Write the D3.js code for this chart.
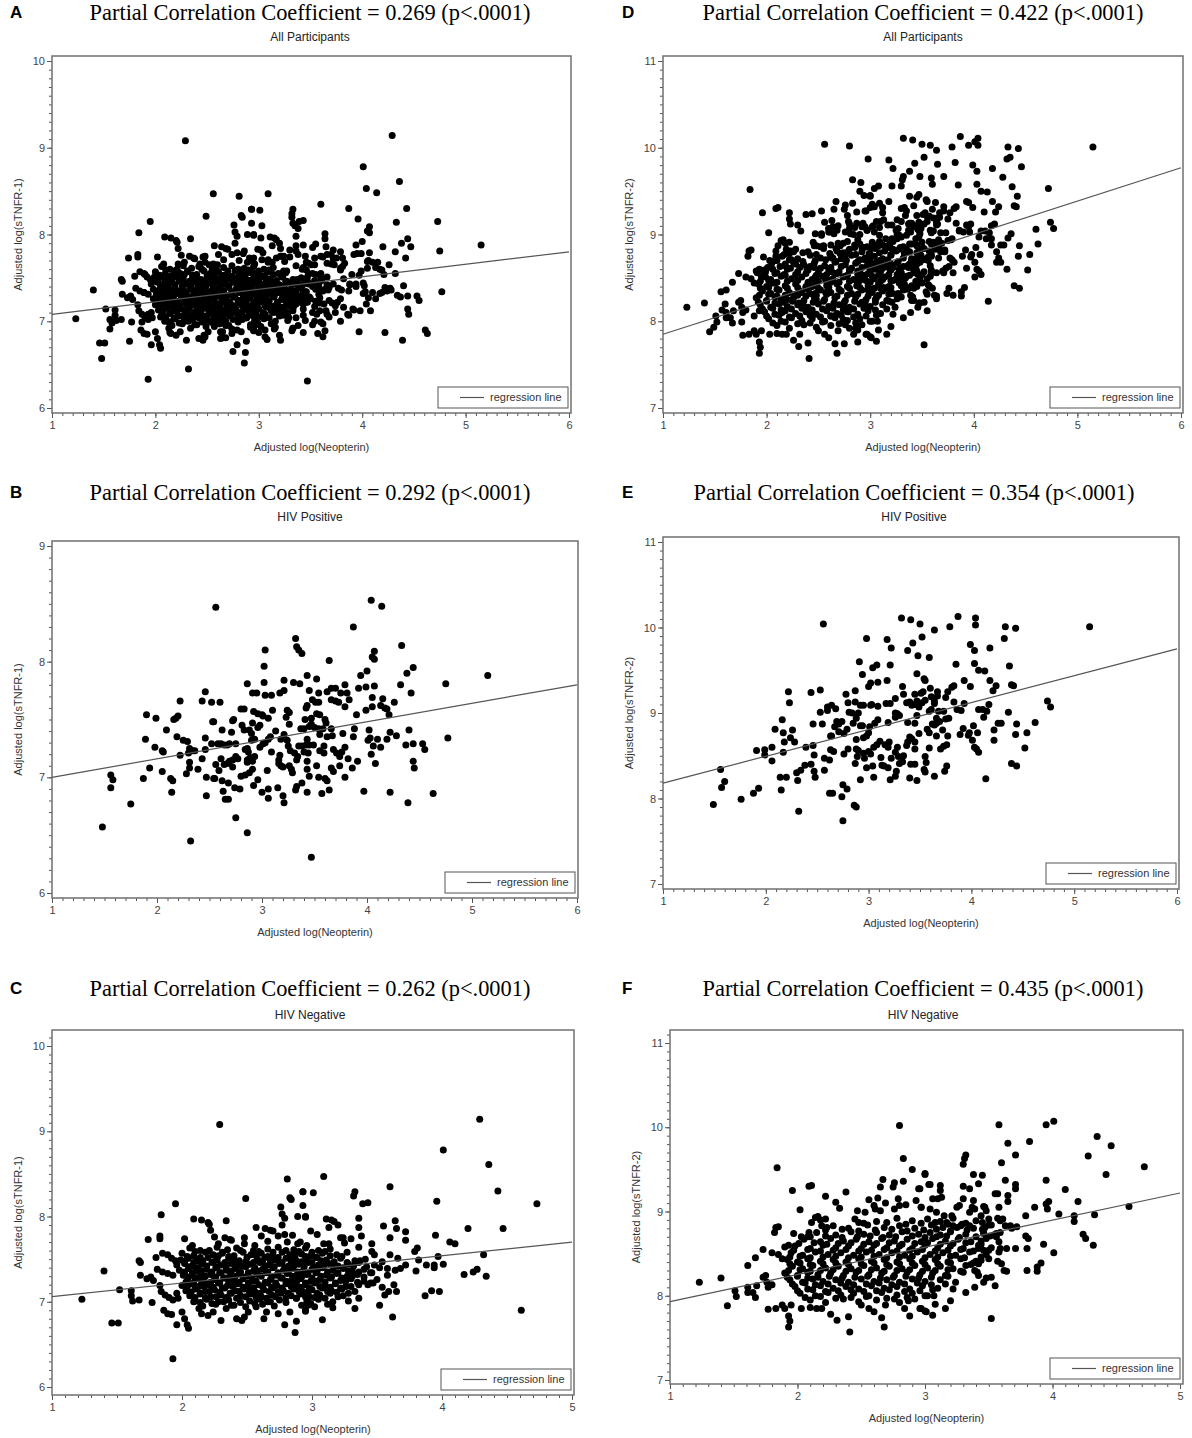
<!DOCTYPE html>
<meta charset="utf-8">
<style>
body{margin:0;background:#fff;}
text{font-family:Arial,"Liberation Sans",sans-serif;fill:#222;}
.title{font-family:"Times New Roman","Liberation Serif",serif;font-size:22.4px;text-anchor:middle;fill:#000;}
.sub{font-size:12px;text-anchor:middle;}
.letter{font-size:17px;font-weight:bold;fill:#000;}
.axlab{font-size:11px;text-anchor:middle;fill:#333;}
.tick text{font-size:11px;fill:#444;font-family:Arial,"Liberation Sans",sans-serif;}
.tick line{stroke:#555;}
.domain{display:none;}
.frame{fill:none;stroke:#707070;stroke-width:1.5px;}
.reg{stroke:#555;stroke-width:1.2px;}
.legbox{fill:#fff;stroke:#555;stroke-width:1px;}
.legtext{font-size:11px;fill:#333;}
</style>
<body>
<script src="https://d3js.org/d3.v7.min.js"></script>
<script>

// HIV positive participants: adjusted log(neopterin), adjusted log(sTNFR-1)
var hivPosR1=[[2.56,8.47],[4.04,8.53],[4.14,8.48],[3.87,8.30],[3.32,8.20],[3.33,8.13],[3.35,8.10],[3.38,8.07],[3.03,8.10],[4.07,8.09],[4.33,8.14],[4.05,8.04],[4.07,8.02],[3.64,8.01],[3.02,7.96],[4.44,7.95],[4.00,7.92],[4.38,7.90],[3.94,7.88],[3.43,7.88],[5.15,7.88],[3.52,7.85],[3.21,7.84],[3.30,7.82],[3.36,7.81],[3.02,7.82],[2.86,7.81],[4.75,7.81],[4.32,7.80],[3.99,7.78],[4.07,7.79],[3.92,7.77],[3.79,7.80],[2.46,7.74],[2.91,7.73],[2.95,7.73],[3.03,7.71],[3.09,7.71],[3.17,7.73],[3.21,7.75],[3.45,7.75],[3.54,7.73],[3.62,7.74],[3.66,7.77],[3.70,7.77],[3.75,7.73],[3.81,7.73],[3.83,7.67],[4.42,7.73],[2.43,7.66],[2.52,7.65],[2.60,7.65],[2.22,7.66],[1.90,7.54],[1.99,7.51],[2.16,7.50],[2.18,7.51],[2.20,7.53],[2.80,7.59],[2.83,7.59],[2.92,7.57],[2.96,7.55],[3.01,7.53],[3.24,7.58],[3.26,7.56],[3.10,7.58],[3.42,7.60],[3.43,7.62],[3.48,7.67],[3.51,7.65],[3.54,7.65],[3.55,7.54],[3.52,7.55],[3.47,7.51],[3.41,7.50],[3.66,7.67],[3.70,7.66],[3.73,7.65],[3.79,7.61],[4.05,7.69],[4.05,7.61],[4.15,7.68],[4.26,7.65],[4.13,7.62],[4.17,7.60],[4.19,7.59],[4.21,7.54],[3.99,7.58],[3.90,7.54],[2.72,7.49],[2.73,7.50],[2.54,7.48],[2.09,7.41],[2.19,7.35],[1.89,7.33],[2.25,7.32],[2.29,7.31],[2.31,7.25],[2.34,7.23],[1.98,7.26],[2.05,7.23],[2.06,7.22],[2.22,7.19],[2.30,7.21],[1.93,7.08],[2.05,7.05],[1.87,6.99],[2.13,6.99],[2.15,6.97],[2.14,6.87],[1.56,7.02],[1.58,6.98],[1.56,6.91],[1.48,6.57],[1.75,6.77],[2.32,6.45],[2.28,7.03],[2.31,7.08],[2.39,7.07],[2.43,7.16],[2.46,7.24],[2.47,7.00],[2.47,6.84],[2.46,7.34],[2.52,7.29],[2.58,7.29],[2.61,7.29],[2.64,7.28],[2.67,7.28],[2.69,7.29],[2.75,7.29],[2.53,7.48],[2.62,7.41],[2.71,7.39],[2.81,7.45],[2.83,7.41],[2.88,7.41],[2.91,7.47],[2.96,7.43],[2.98,7.45],[2.90,7.38],[2.90,7.32],[2.93,7.33],[2.86,7.25],[2.84,7.24],[2.87,7.22],[2.89,7.17],[2.86,7.15],[2.93,7.18],[2.98,7.26],[3.01,7.29],[3.03,7.30],[3.06,7.33],[3.08,7.35],[3.13,7.40],[3.18,7.33],[3.21,7.37],[3.24,7.32],[3.06,7.51],[3.00,7.54],[3.26,7.46],[3.23,7.52],[3.37,7.42],[3.40,7.42],[3.45,7.44],[3.47,7.46],[3.50,7.43],[3.54,7.42],[3.58,7.42],[3.61,7.47],[3.60,7.50],[3.66,7.42],[3.62,7.35],[3.67,7.36],[3.55,7.37],[3.43,7.33],[3.42,7.28],[3.38,7.27],[3.35,7.27],[3.45,7.28],[3.49,7.28],[3.59,7.27],[3.55,7.23],[3.59,7.21],[3.68,7.24],[3.71,7.21],[3.76,7.22],[3.74,7.18],[3.77,7.38],[3.79,7.26],[3.82,7.16],[3.87,7.35],[3.88,7.42],[3.91,7.14],[3.86,7.08],[3.74,7.10],[3.68,7.05],[3.66,7.08],[3.79,7.00],[3.64,6.89],[3.62,6.97],[3.60,6.99],[3.54,7.00],[3.45,7.01],[3.43,7.07],[3.43,7.14],[3.44,7.21],[3.40,7.22],[3.34,7.18],[3.33,7.15],[3.29,7.04],[3.28,7.07],[3.31,7.21],[3.27,7.23],[3.25,7.27],[3.17,7.19],[3.16,7.12],[3.18,7.10],[3.20,7.09],[3.26,7.10],[3.16,7.15],[3.09,7.22],[3.05,7.06],[3.06,6.90],[3.06,6.82],[3.00,6.87],[3.15,6.91],[3.20,6.84],[3.21,6.78],[3.32,6.89],[3.33,6.92],[3.43,6.87],[3.38,6.95],[3.57,6.86],[3.52,7.10],[3.97,6.88],[4.01,7.32],[4.03,7.34],[4.04,7.20],[4.08,7.12],[4.10,7.33],[4.13,7.26],[4.06,7.27],[4.02,7.41],[4.19,7.33],[4.22,7.39],[4.28,7.36],[4.37,7.28],[4.40,7.41],[4.44,7.29],[4.53,7.29],[4.55,7.24],[4.44,7.14],[4.45,7.08],[4.77,7.34],[4.22,6.87],[4.39,6.78],[4.63,6.86],[2.75,7.18],[2.77,7.16],[2.72,7.15],[2.69,7.14],[2.64,7.11],[2.61,7.16],[2.59,7.06],[2.56,7.11],[2.55,6.99],[2.62,6.97],[2.68,6.95],[2.63,6.88],[2.65,6.81],[2.68,6.81],[2.74,6.91],[2.79,6.90],[2.75,6.65],[2.86,6.52],[3.47,6.31],[2.80,7.01],[2.84,7.02],[2.88,7.04],[2.91,7.07],[2.96,6.98],[2.92,6.93],[2.86,7.13],[2.88,7.16],[2.91,7.14],[2.72,7.09],[2.67,7.12],[2.54,6.99],[2.36,7.23],[2.31,7.13]];

// HIV negative participants: adjusted log(neopterin), adjusted log(sTNFR-1)
var hivNegR1=[[2.29,9.08],[2.81,8.44],[2.49,8.21],[1.95,8.15],[1.84,8.02],[2.83,8.22],[2.84,8.20],[2.93,8.29],[2.93,8.13],[2.76,8.11],[2.77,8.03],[2.79,7.98],[2.89,8.00],[2.95,8.00],[2.09,7.97],[2.15,7.96],[2.20,7.93],[2.21,7.91],[2.34,7.95],[2.77,7.90],[2.57,7.87],[2.22,7.84],[1.74,7.73],[1.83,7.74],[1.83,7.77],[2.02,7.74],[2.25,7.76],[2.33,7.75],[2.37,7.73],[2.48,7.75],[2.64,7.86],[2.68,7.84],[2.70,7.83],[2.08,7.66],[1.40,7.36],[1.23,7.03],[1.52,7.14],[1.61,7.13],[1.61,7.07],[1.62,7.01],[1.67,7.48],[1.68,7.46],[1.68,7.31],[1.73,7.27],[1.76,7.29],[1.78,7.25],[1.67,7.02],[1.77,6.99],[1.46,6.75],[1.51,6.75],[1.93,6.33],
[1.80,7.52],[1.85,7.57],[1.89,7.55],[1.92,7.51],[1.95,7.48],[1.96,7.43],[1.81,7.38],[1.85,7.35],[1.89,7.33],[1.93,7.31],[1.83,7.19],[1.84,7.12],[1.87,7.08],[1.90,7.05],[1.93,7.02],[1.97,7.04],[1.96,7.10],[1.86,6.90],[1.89,6.86],[1.92,6.85],[1.96,6.73],[2.00,6.88],[2.02,6.80],[2.04,6.73],[2.05,6.69],
[2.09,7.00],[2.13,6.92],[2.15,6.86],[2.20,6.84],[2.24,6.88],[2.30,6.78],[2.34,6.92],[2.38,6.96],[2.42,6.80],[2.46,6.78],[2.48,6.82],[2.51,6.88],[2.57,6.94],[2.63,6.80],[2.65,6.88],[2.74,6.86],[2.79,6.73],[2.87,6.64],[2.88,6.77],[2.83,6.88],[2.95,6.90],[2.97,6.96],
[2.61,7.77],[2.66,7.71],[2.74,7.77],[2.79,7.79],[2.85,7.78],[2.81,7.70],[2.89,7.68],[2.28,7.68],[2.38,7.72],[2.48,7.68],[2.56,7.66],
[4.29,9.14],[4.01,8.78],[4.36,8.61],[4.43,8.30],[4.73,8.15],[3.96,8.18],[4.20,7.86],[4.47,7.86],[3.95,7.78],[4.06,7.70],[4.10,7.68],[4.32,7.55],[3.97,7.53],[4.01,7.44],[4.17,7.32],[4.24,7.35],[4.27,7.38],[4.34,7.30],[3.87,7.07],[3.92,7.13],[3.98,7.12],[4.61,6.90],[3.88,7.43],[3.94,7.43],[3.94,7.40],[3.79,7.59],[3.81,7.63],[3.82,7.49],[3.80,7.36],[3.60,8.35],[3.09,8.47],[2.93,8.29],[3.01,8.28],[2.95,7.99],[3.33,8.29],[3.32,8.24],[3.39,8.15],[3.43,8.16],[3.36,7.98],[3.36,7.87],[3.55,7.89],[3.65,7.86],[3.64,7.95],[3.60,7.75],[3.72,7.82],[3.72,7.72],[3.11,7.97],[3.15,7.96],[3.17,7.94],[3.20,7.90],[3.13,7.87],[2.99,7.83],[3.04,7.79],[3.22,7.75],[3.24,7.75],[3.30,7.74],[3.25,7.69],[3.38,7.77],[3.46,7.68],[3.36,7.64],[3.46,7.59],[3.09,7.68],[3.13,7.68],[2.96,7.66],[2.91,7.70],
[3.60,7.55],[3.66,7.51],[3.72,7.43],[3.58,7.39],[3.64,7.37],[3.68,7.39],[3.54,7.47],[3.48,7.55],[3.52,6.96],[3.62,6.82],[3.54,7.17],[3.59,7.12],[3.63,7.20],[3.65,7.12],[3.56,7.08],[3.08,6.79],[2.95,6.89],[3.16,6.93],[3.33,6.92],[3.28,7.01],[3.36,7.04],[3.43,7.20],
[2.06,7.63],[2.14,7.60],[2.27,7.64],[2.35,7.61],[2.42,7.63],[2.55,7.60],[2.66,7.62],[2.74,7.64],[2.86,7.61],[2.95,7.63],[3.05,7.60],[3.14,7.62],
[2.00,7.57],[2.09,7.54],[2.18,7.58],[2.24,7.55],[2.31,7.57],[2.40,7.54],[2.47,7.58],[2.53,7.55],[2.61,7.57],[2.70,7.54],[2.77,7.58],[2.83,7.55],[2.92,7.56],[2.99,7.54],[3.08,7.57],[3.19,7.55],[3.27,7.58],
[1.99,7.49],[2.05,7.51],[2.12,7.48],[2.20,7.52],[2.27,7.49],[2.36,7.51],[2.44,7.48],[2.58,7.50],[2.64,7.52],[2.72,7.49],[2.80,7.51],[2.88,7.48],[2.96,7.50],[3.03,7.52],[3.11,7.49],[3.22,7.51],[3.33,7.48],[3.41,7.50],
[2.02,7.45],[2.08,7.42],[2.15,7.44],[2.23,7.46],[2.30,7.43],[2.38,7.45],[2.46,7.42],[2.52,7.44],[2.60,7.46],[2.67,7.43],[2.75,7.45],[2.82,7.42],[2.90,7.44],[2.97,7.46],[3.05,7.43],[3.13,7.45],[3.20,7.42],[3.28,7.44],[3.36,7.46],[3.48,7.43],
[1.98,7.37],[2.05,7.39],[2.11,7.36],[2.19,7.38],[2.26,7.40],[2.34,7.37],[2.41,7.39],[2.55,7.36],[2.62,7.38],[2.70,7.40],[2.78,7.37],[2.85,7.39],[2.93,7.36],[3.00,7.38],[3.08,7.40],[3.16,7.37],[3.24,7.39],[3.31,7.36],[3.40,7.38],[3.52,7.40],
[2.01,7.31],[2.08,7.33],[2.14,7.30],[2.22,7.32],[2.29,7.34],[2.37,7.31],[2.44,7.33],[2.50,7.30],[2.58,7.32],[2.65,7.34],[2.73,7.31],[2.81,7.33],[2.88,7.30],[2.96,7.32],[3.03,7.34],[3.11,7.31],[3.19,7.33],[3.27,7.30],[3.35,7.32],[3.45,7.34],[3.58,7.31],
[2.04,7.25],[2.10,7.27],[2.17,7.24],[2.25,7.26],[2.32,7.28],[2.40,7.25],[2.47,7.27],[2.54,7.24],[2.68,7.26],[2.76,7.28],[2.84,7.25],[2.91,7.27],[2.99,7.24],[3.06,7.26],[3.14,7.28],[3.22,7.25],[3.30,7.27],[3.40,7.24],[3.50,7.26],
[2.00,7.19],[2.07,7.21],[2.13,7.18],[2.21,7.20],[2.28,7.22],[2.35,7.19],[2.43,7.21],[2.51,7.18],[2.59,7.20],[2.66,7.22],[2.73,7.19],[2.80,7.21],[2.87,7.18],[2.95,7.20],[3.02,7.22],[3.10,7.19],[3.18,7.21],[3.26,7.18],[3.36,7.20],[3.47,7.22],
[2.03,7.13],[2.10,7.15],[2.18,7.12],[2.25,7.14],[2.33,7.16],[2.41,7.13],[2.48,7.15],[2.56,7.12],[2.63,7.14],[2.70,7.16],[2.78,7.13],[2.86,7.15],[2.93,7.12],[3.00,7.14],[3.08,7.16],[3.15,7.13],[3.23,7.15],[3.33,7.12],
[2.06,7.07],[2.14,7.09],[2.22,7.06],[2.30,7.08],[2.38,7.10],[2.45,7.07],[2.53,7.09],[2.61,7.06],[2.69,7.08],[2.76,7.10],[2.84,7.07],[2.91,7.09],[2.98,7.06],[3.06,7.08],[3.14,7.10],[3.24,7.07],
[2.10,7.01],[2.19,7.03],[2.28,7.00],[2.36,7.02],[2.44,7.04],[2.52,7.01],[2.60,7.03],[2.68,7.00],[2.75,7.02],[2.88,7.04],[2.96,7.01],[3.05,7.03],[3.16,7.00],
[2.16,6.95],[2.26,6.97],[2.40,6.96],[2.49,6.94],[2.62,6.97],[2.71,6.95],[2.92,6.96],[3.02,6.94],[3.12,6.97],
[2.10,7.59],[2.21,7.60],[2.31,7.58],[2.45,7.60],[2.59,7.59],[2.70,7.58],[2.80,7.60],[2.90,7.59],[3.00,7.58],[3.10,7.59],
[2.04,7.53],[2.14,7.52],[2.28,7.54],[2.36,7.53],[2.50,7.52],[2.57,7.54],[2.66,7.53],[2.74,7.52],[2.87,7.54],[2.95,7.53],[3.04,7.52],[3.14,7.54],[3.23,7.53],
[2.02,7.47],[2.09,7.46],[2.16,7.48],[2.24,7.47],[2.33,7.46],[2.40,7.48],[2.49,7.47],[2.55,7.46],[2.62,7.48],[2.68,7.47],[2.77,7.46],[2.84,7.48],[2.92,7.47],[3.00,7.46],[3.07,7.48],[3.17,7.47],[3.27,7.46],[3.37,7.48],
[2.05,7.41],[2.12,7.40],[2.19,7.42],[2.27,7.41],[2.34,7.40],[2.42,7.42],[2.49,7.41],[2.56,7.40],[2.64,7.42],[2.71,7.41],[2.79,7.40],[2.86,7.42],[2.94,7.41],[3.01,7.40],[3.09,7.42],[3.17,7.41],[3.24,7.40],[3.32,7.42],[3.42,7.41],
[2.02,7.35],[2.08,7.34],[2.15,7.36],[2.23,7.35],[2.30,7.34],[2.38,7.36],[2.45,7.35],[2.51,7.34],[2.58,7.36],[2.66,7.35],[2.74,7.34],[2.82,7.36],[2.89,7.35],[2.97,7.34],[3.04,7.36],[3.12,7.35],[3.20,7.34],[3.28,7.36],[3.36,7.35],[3.46,7.34],
[2.05,7.29],[2.11,7.28],[2.18,7.30],[2.26,7.29],[2.33,7.28],[2.41,7.30],[2.47,7.29],[2.54,7.28],[2.61,7.30],[2.69,7.29],[2.77,7.28],[2.85,7.30],[2.92,7.29],[3.00,7.28],[3.07,7.30],[3.15,7.29],[3.23,7.28],[3.31,7.30],[3.40,7.29],
[2.03,7.23],[2.09,7.22],[2.15,7.24],[2.22,7.23],[2.29,7.22],[2.36,7.24],[2.44,7.23],[2.51,7.22],[2.57,7.24],[2.64,7.23],[2.72,7.22],[2.80,7.24],[2.88,7.23],[2.95,7.22],[3.03,7.24],[3.10,7.23],[3.18,7.22],[3.26,7.24],[3.35,7.23],[3.45,7.22],
[2.04,7.17],[2.11,7.16],[2.17,7.18],[2.24,7.17],[2.31,7.16],[2.39,7.18],[2.47,7.17],[2.55,7.16],[2.62,7.18],[2.69,7.17],[2.77,7.16],[2.84,7.18],[2.91,7.17],[2.98,7.16],[3.06,7.18],[3.14,7.17],[3.22,7.16],[3.30,7.18],
[2.07,7.11],[2.14,7.10],[2.21,7.12],[2.29,7.11],[2.37,7.10],[2.44,7.12],[2.52,7.11],[2.60,7.10],[2.67,7.12],[2.74,7.11],[2.82,7.10],[2.90,7.12],[2.97,7.11],[3.04,7.10],[3.12,7.12],[3.19,7.11],[3.28,7.10],
[2.10,7.05],[2.18,7.04],[2.26,7.06],[2.34,7.05],[2.42,7.04],[2.49,7.06],[2.57,7.05],[2.65,7.04],[2.72,7.06],[2.80,7.05],[2.88,7.04],[2.95,7.06],[3.02,7.05],[3.10,7.04],[3.20,7.06],
[2.14,6.99],[2.23,6.98],[2.32,7.00],[2.45,6.99],[2.56,6.98],[2.66,7.00],[2.80,6.99],[2.99,6.98]];

// HIV positive participants: adjusted log(neopterin), adjusted log(sTNFR-2)
var hivPosR2=[[2.56,10.04],[3.32,10.11],[3.41,10.09],[3.50,10.04],[3.87,10.13],[4.04,10.11],[4.04,10.03],[3.79,10.01],[3.64,9.97],[4.33,10.01],[4.43,9.99],[5.15,10.01],[4.32,9.87],[2.98,9.87],[3.18,9.86],[3.22,9.76],[3.52,9.89],[3.43,9.82],[3.38,9.73],[3.48,9.67],[3.59,9.65],[3.99,9.80],[4.03,9.73],[4.18,9.76],[2.91,9.60],[3.04,9.53],[3.08,9.56],[3.21,9.56],[2.94,9.45],[3.02,9.35],[3.00,9.31],[3.09,9.36],[3.18,9.38],[3.47,9.46],[3.54,9.40],[3.55,9.38],[3.85,9.57],[4.03,9.58],[4.07,9.50],[4.13,9.49],[4.18,9.38],[4.37,9.55],[4.39,9.33],[4.41,9.32],[3.93,9.38],[3.99,9.31],[3.83,9.32],[3.81,9.30],[4.21,9.26],[3.33,9.31],[3.34,9.22],[3.45,9.22],[3.51,9.23],[3.53,9.25],[3.60,9.29],[3.61,9.19],[3.67,9.25],[3.67,9.20],[3.77,9.25],[3.75,9.18],[2.22,9.25],[2.23,9.12],[2.44,9.24],[2.53,9.27],[2.78,9.22],[2.87,9.26],[2.60,9.07],[2.64,9.09],[2.68,9.05],[2.60,9.03],[2.53,9.01],[2.80,9.12],[2.87,9.13],[2.81,9.01],[2.84,9.00],[2.90,9.00],[2.92,9.09],[2.95,9.09],[3.02,9.09],[3.03,9.10],[3.09,9.08],[3.17,9.11],[3.21,9.11],[3.26,9.17],[3.26,9.00],[3.28,8.99],[3.30,8.97],[3.37,9.12],[3.40,9.13],[3.42,9.09],[3.45,9.10],[3.47,9.14],[3.49,9.07],[3.52,9.12],[3.55,9.15],[3.64,9.14],[3.64,9.11],[3.59,9.02],[3.61,9.04],[3.68,9.02],[3.73,9.02],[3.83,9.13],[3.86,9.04],[3.90,9.03],[3.93,9.11],[4.07,9.04],[4.11,9.04],[4.15,9.02],[4.17,9.10],[4.36,9.01],[4.74,9.14],[4.77,9.07],[4.12,8.95],[4.26,8.88],[4.29,8.88],[4.44,8.87],[4.62,8.89],[4.54,8.77],[4.43,8.75],[4.22,8.80],[4.22,8.68],[4.52,8.59],[4.02,8.85],[4.06,8.77],[3.98,8.77],[3.97,8.74],[4.01,8.68],[4.03,8.60],[4.05,8.58],[4.07,8.54],[3.89,8.75],[3.92,8.82],[3.77,8.73],[3.78,8.94],[3.75,8.93],[3.66,8.94],[3.69,8.90],[3.66,8.88],[3.64,8.86],[3.62,8.87],[3.57,8.81],[3.59,8.77],[3.66,8.73],[3.72,8.80],[3.76,8.63],[3.73,8.61],[3.70,8.58],[3.59,8.59],[3.55,8.49],[3.56,8.42],[3.54,8.34],[3.55,8.31],[3.45,8.40],[3.41,8.40],[3.40,8.24],[3.47,8.21],[3.45,8.58],[3.42,8.70],[3.40,8.72],[3.37,8.62],[3.34,8.50],[3.33,8.43],[3.28,8.60],[3.26,8.54],[3.29,8.49],[3.30,8.41],[3.27,8.32],[3.26,8.26],[3.21,8.22],[3.19,8.36],[3.15,8.38],[3.22,8.47],[3.19,8.60],[3.16,8.63],[3.20,8.66],[3.11,8.67],[3.08,8.63],[3.05,8.60],[3.00,8.55],[3.02,8.52],[2.96,8.47],[2.98,8.36],[3.04,8.38],[3.12,8.48],[3.13,8.39],[3.05,8.25],[2.92,8.22],[2.87,8.41],[2.89,8.49],[2.95,8.53],[2.90,8.56],[2.88,8.58],[2.88,8.69],[2.95,8.71],[2.98,8.73],[3.00,8.77],[3.01,8.84],[3.06,8.88],[3.09,8.92],[3.19,8.89],[3.26,8.95],[3.38,8.89],[3.45,8.88],[3.47,8.97],[3.49,8.76],[3.45,8.66],[3.38,8.66],[2.94,8.85],[2.92,8.85],[2.88,8.94],[2.85,8.88],[2.79,8.81],[2.76,8.76],[2.71,8.87],[2.71,8.78],[2.74,8.90],[2.69,8.90],[2.67,8.84],[2.64,8.73],[2.63,8.57],[2.66,8.55],[2.76,8.52],[2.80,8.58],[2.57,8.47],[2.62,8.45],[2.57,8.33],[2.47,8.32],[2.48,8.25],[2.46,8.62],[2.47,8.51],[2.44,8.40],[2.39,8.60],[2.38,8.39],[2.34,8.33],[2.30,8.30],[2.31,8.21],[2.20,8.25],[2.14,8.25],[2.15,8.10],[2.17,8.54],[2.18,8.66],[2.24,8.71],[2.28,8.66],[2.26,8.80],[2.16,8.92],[2.17,8.77],[2.09,8.81],[2.06,8.60],[2.06,8.44],[1.99,8.57],[1.99,8.51],[1.91,8.56],[2.32,7.85],[2.62,8.06],[2.65,8.06],[2.74,8.02],[2.75,8.16],[2.79,8.11],[2.86,7.92],[2.88,7.90],[2.75,7.74],[2.46,8.87],[2.55,8.87],[2.63,8.73],[1.56,8.34],[1.60,8.20],[1.57,8.13],[1.49,7.93],[1.76,7.99],[1.88,8.06],[1.93,8.12],[4.14,8.23],[4.39,8.41],[4.44,8.38],[3.76,8.38],[3.74,8.32],[3.64,8.26],[4.24,9.32]];

// HIV negative participants: adjusted log(neopterin), adjusted log(sTNFR-2)
var hivNegR2=[[1.84,9.52],[1.96,9.25],[2.09,9.30],[2.11,9.31],[2.02,9.02],[2.22,9.18],[2.38,9.23],[2.30,9.11],[2.33,9.04],[2.80,10.02],[2.83,9.63],[2.90,9.50],[3.00,9.44],[2.67,9.38],[2.76,9.34],[2.75,9.29],[2.83,9.36],[2.65,9.29],[2.95,9.27],[3.03,9.32],[2.56,9.14],[2.63,9.16],[2.69,9.10],[2.60,9.07],[2.61,9.03],[2.65,9.01],[2.79,9.15],[2.80,9.07],[2.85,9.08],[2.76,9.03],[2.93,9.13],[2.97,9.05],[2.47,9.01],[2.53,8.99],[2.48,8.87],
[1.83,8.81],[1.85,8.82],[1.82,8.75],[1.97,8.74],[2.03,8.70],[2.09,8.75],[2.08,8.70],[2.11,8.87],[2.14,8.93],[2.16,8.94],[2.18,8.90],[2.19,8.83],[2.22,8.91],[2.23,8.81],[1.73,8.55],[1.67,8.45],[1.61,8.36],[1.80,8.51],[1.85,8.49],[1.88,8.44],[1.90,8.58],[1.93,8.60],
[1.23,8.16],[1.40,8.21],[1.45,7.88],[1.51,8.06],[1.52,7.99],[1.61,8.10],[1.61,8.04],[1.65,8.04],[1.67,7.98],[1.68,8.12],[1.73,8.22],[1.75,8.24],[1.76,8.16],[1.77,8.10],[1.80,8.13],
[1.77,7.84],[1.83,7.85],[1.88,7.89],[1.90,7.85],[1.95,7.89],[1.93,7.76],[1.94,7.70],[1.93,7.63],[2.03,7.85],[2.10,7.86],[2.15,7.85],[2.19,7.85],[2.26,7.78],[2.31,7.71],[2.40,7.75],[2.41,7.57],[2.50,7.89],[2.56,7.85],[2.60,7.81],[2.66,7.74],[2.68,7.63],[2.69,7.89],[2.76,7.96],[2.84,7.85],[2.88,7.76],[2.87,7.94],[2.97,7.85],[3.00,7.82],
[3.58,10.03],[3.95,10.03],[4.01,10.07],[3.65,9.81],[3.82,9.83],[3.71,9.67],[3.60,9.58],[4.35,9.89],[4.46,9.78],[4.28,9.66],[4.72,9.53],[4.42,9.44],[3.32,9.67],[3.31,9.63],[3.30,9.56],[3.00,9.45],[3.38,9.44],[3.45,9.43],[3.95,9.37],[4.10,9.26],[3.63,9.37],[3.71,9.32],[3.71,9.27],[3.42,9.33],[3.35,9.27],[3.30,9.30],[3.55,9.21],[3.57,9.21],[3.65,9.19],[3.65,9.12],[4.20,9.12],[3.95,9.09],[3.97,9.12],[3.96,9.03],[3.86,9.05],[4.60,9.06],[4.05,8.97],[4.17,8.95],[4.33,8.96],[4.17,8.88],[3.79,8.95],[4.24,8.73],[4.26,8.68],[4.32,8.60],[3.93,8.61],[4.01,8.51],[3.79,8.71],[3.81,8.68],[3.80,8.56],[3.71,8.56],[3.80,8.30],[3.88,8.29],[3.91,8.39],[3.88,8.34],[3.52,7.73],[3.55,8.12],[3.48,8.21],[3.52,8.22],[3.64,8.29],[3.62,8.30],[3.58,9.05],[3.57,8.92],[3.59,8.89],[3.61,8.91],[3.63,8.83],[3.67,8.83],[3.72,8.82],[3.68,8.80],[3.56,8.74],[3.59,8.75],[3.56,8.70],[3.58,8.64],[3.59,8.56],[3.64,8.56],[3.58,8.52],[3.57,8.41],[3.60,8.38],[3.47,9.05],[3.48,9.01],[3.46,9.06],[3.44,8.95],
[3.50,8.84],[3.47,8.81],[3.46,8.74],[3.44,8.65],[3.43,8.60],[3.42,8.56],[3.46,8.54],[3.50,8.44],[3.44,8.42],[3.42,8.38],[3.38,8.39],[3.39,8.30],[3.41,8.28],[3.42,8.24],[3.46,8.16],[3.39,8.10],[3.32,8.04],[3.22,8.08],[3.20,7.94],[3.16,7.85],[3.06,7.77],[3.08,7.90],[3.07,8.00],[3.00,8.00],[2.96,7.85],[3.01,7.81],
[3.30,9.15],[3.27,9.07],[3.25,9.05],[3.38,9.13],[3.37,9.05],[3.39,9.03],[3.35,8.99],[3.35,8.83],[3.29,8.85],[3.25,8.81],[3.22,8.83],[3.21,8.95],[3.15,8.95],[3.17,8.87],[3.09,8.99],[3.04,9.03],[3.04,9.32],[3.12,9.31],[3.12,9.25],[3.13,9.17],[3.10,9.15],[3.06,9.15],[2.97,9.05],[2.96,9.27],
[2.45,8.91],[2.62,8.88],[2.78,8.92],[2.90,8.89],[3.02,8.91],[3.12,8.88],[3.22,8.92],[3.40,8.89],[3.50,8.91],
[2.28,8.83],[2.40,8.80],[2.55,8.84],[2.68,8.81],[2.80,8.83],[2.92,8.80],[3.05,8.84],[3.14,8.81],[3.28,8.83],[3.38,8.80],[3.52,8.84],
[2.15,8.75],[2.30,8.72],[2.42,8.76],[2.52,8.73],[2.62,8.75],[2.72,8.72],[2.82,8.76],[2.95,8.73],[3.04,8.75],[3.12,8.72],[3.20,8.76],[3.32,8.73],[3.46,8.75],[3.54,8.72],
[2.05,8.67],[2.18,8.64],[2.26,8.68],[2.36,8.65],[2.46,8.67],[2.56,8.64],[2.66,8.68],[2.76,8.65],[2.86,8.67],[2.97,8.64],[3.06,8.68],[3.16,8.65],[3.26,8.67],[3.36,8.64],[3.48,8.68],
[1.98,8.59],[2.10,8.56],[2.20,8.60],[2.30,8.57],[2.40,8.59],[2.50,8.56],[2.60,8.60],[2.70,8.57],[2.80,8.59],[2.90,8.56],[3.00,8.60],[3.10,8.57],[3.20,8.59],[3.30,8.56],[3.42,8.60],[3.52,8.57],
[1.95,8.51],[2.04,8.48],[2.14,8.52],[2.24,8.49],[2.34,8.51],[2.44,8.48],[2.54,8.52],[2.64,8.49],[2.74,8.51],[2.84,8.48],[2.94,8.52],[3.04,8.49],[3.14,8.51],[3.24,8.48],[3.35,8.52],[3.48,8.49],
[1.92,8.43],[2.00,8.40],[2.08,8.44],[2.18,8.41],[2.28,8.43],[2.38,8.40],[2.48,8.44],[2.58,8.41],[2.68,8.43],[2.78,8.40],[2.88,8.44],[2.98,8.41],[3.08,8.43],[3.18,8.40],[3.28,8.44],[3.40,8.41],
[1.96,8.35],[2.04,8.32],[2.12,8.36],[2.22,8.33],[2.32,8.35],[2.42,8.32],[2.52,8.36],[2.62,8.33],[2.72,8.35],[2.82,8.32],[2.92,8.36],[3.02,8.33],[3.12,8.35],[3.22,8.32],[3.32,8.36],
[1.90,8.27],[2.00,8.24],[2.08,8.28],[2.16,8.25],[2.26,8.27],[2.36,8.24],[2.46,8.28],[2.56,8.25],[2.66,8.27],[2.76,8.24],[2.86,8.28],[2.96,8.25],[3.06,8.27],[3.16,8.24],[3.30,8.28],
[1.94,8.19],[2.04,8.16],[2.12,8.20],[2.20,8.17],[2.30,8.19],[2.40,8.16],[2.50,8.20],[2.60,8.17],[2.70,8.19],[2.80,8.16],[2.90,8.20],[3.00,8.17],[3.12,8.19],[3.24,8.16],
[1.98,8.11],[2.08,8.08],[2.18,8.12],[2.28,8.09],[2.38,8.11],[2.48,8.08],[2.58,8.12],[2.68,8.09],[2.78,8.11],[2.88,8.08],[2.98,8.12],[3.10,8.09],
[2.02,8.03],[2.14,8.00],[2.24,8.04],[2.34,8.01],[2.44,8.03],[2.56,8.00],[2.66,8.04],[2.78,8.01],[2.90,8.03],[3.02,8.00],
[2.10,7.95],[2.22,7.92],[2.36,7.96],[2.48,7.93],[2.62,7.95],[2.80,7.92],[2.92,7.96],
[2.52,8.86],[2.70,8.87],[2.85,8.85],[2.97,8.86],[3.08,8.87],[3.18,8.85],[3.32,8.86],[3.45,8.87],
[2.22,8.78],[2.35,8.79],[2.48,8.77],[2.61,8.78],[2.74,8.79],[2.86,8.77],[2.99,8.78],[3.09,8.79],[3.20,8.77],[3.33,8.78],[3.45,8.79],
[2.10,8.70],[2.22,8.71],[2.35,8.69],[2.47,8.70],[2.57,8.71],[2.67,8.69],[2.77,8.70],[2.90,8.71],[3.00,8.69],[3.09,8.70],[3.17,8.71],[3.27,8.69],[3.40,8.70],[3.51,8.71],
[2.01,8.62],[2.13,8.63],[2.23,8.61],[2.32,8.62],[2.42,8.63],[2.52,8.61],[2.62,8.62],[2.72,8.63],[2.82,8.61],[2.92,8.62],[3.02,8.63],[3.12,8.61],[3.22,8.62],[3.32,8.63],[3.44,8.61],
[1.97,8.54],[2.08,8.55],[2.18,8.53],[2.28,8.54],[2.38,8.55],[2.48,8.53],[2.58,8.54],[2.68,8.55],[2.78,8.53],[2.88,8.54],[2.98,8.55],[3.08,8.53],[3.18,8.54],[3.28,8.55],[3.38,8.53],[3.50,8.54],
[1.94,8.46],[2.02,8.47],[2.10,8.45],[2.20,8.46],[2.30,8.47],[2.40,8.45],[2.50,8.46],[2.60,8.47],[2.70,8.45],[2.80,8.46],[2.90,8.47],[3.00,8.45],[3.10,8.46],[3.20,8.47],[3.31,8.45],[3.44,8.46],
[1.94,8.38],[2.02,8.39],[2.10,8.37],[2.20,8.38],[2.30,8.39],[2.40,8.37],[2.50,8.38],[2.60,8.39],[2.70,8.37],[2.80,8.38],[2.90,8.39],[3.00,8.37],[3.10,8.38],[3.20,8.39],[3.36,8.37],
[1.93,8.30],[2.02,8.31],[2.10,8.29],[2.18,8.30],[2.28,8.31],[2.38,8.29],[2.48,8.30],[2.58,8.31],[2.68,8.29],[2.78,8.30],[2.88,8.31],[2.98,8.29],[3.08,8.30],[3.18,8.31],[3.28,8.29],
[1.92,8.22],[2.00,8.23],[2.08,8.21],[2.16,8.22],[2.25,8.23],[2.35,8.21],[2.45,8.22],[2.55,8.23],[2.65,8.21],[2.75,8.22],[2.85,8.23],[2.95,8.21],[3.05,8.22],[3.18,8.23],
[1.96,8.14],[2.06,8.15],[2.14,8.13],[2.24,8.14],[2.34,8.15],[2.44,8.13],[2.54,8.14],[2.64,8.15],[2.74,8.13],[2.84,8.14],[2.94,8.15],[3.05,8.13],[3.16,8.14],
[2.00,8.06],[2.12,8.07],[2.22,8.05],[2.32,8.06],[2.42,8.07],[2.52,8.05],[2.62,8.06],[2.72,8.07],[2.84,8.05],[2.96,8.06],[3.06,8.07],
[2.06,7.98],[2.18,7.99],[2.30,7.97],[2.42,7.98],[2.54,7.99],[2.70,7.97],[2.86,7.98]];

var letters=["A","B","C","D","E","F"];
var coefficients=["0.269","0.292","0.262","0.422","0.354","0.435"];
var groups=["All Participants","HIV Positive","HIV Negative","All Participants","HIV Positive","HIV Negative"];
var yLabels=["Adjusted log(sTNFR-1)","Adjusted log(sTNFR-1)","Adjusted log(sTNFR-1)","Adjusted log(sTNFR-2)","Adjusted log(sTNFR-2)","Adjusted log(sTNFR-2)"];
var xLabel="Adjusted log(Neopterin)";
var xTicksWide=[1,2,3,4,5,6], xTicksNarrow=[1,2,3,4,5];
var xTickSets=[xTicksWide,xTicksWide,xTicksNarrow,xTicksWide,xTicksWide,xTicksNarrow];
var yTickSets=[[6,7,8,9,10],[6,7,8,9],[6,7,8,9,10],[7,8,9,10,11],[7,8,9,10,11],[7,8,9,10,11]];
// regression line end points
var regLines=[[[1,7.08],[6,7.80]],[[1,7.00],[6,7.80]],[[1,7.06],[5,7.70]],[[1,7.85],[6,9.77]],[[1,8.18],[6,9.75]],[[1,7.93],[5,9.22]]];
var pointSets=[hivPosR1.concat(hivNegR1),hivPosR1,hivNegR1,hivPosR2.concat(hivNegR2),hivPosR2,hivNegR2];

// layout in pixels
var layout=[
 {left:52,right:571,top:56,bottom:413,x0:52,x1:569,yLo:408,yHi:61,tx:310,row:0,lx:10},
 {left:52,right:578,top:541,bottom:898,x0:52,x1:577,yLo:893,yHi:546,tx:310,row:1,lx:10},
 {left:52,right:574,top:1030,bottom:1395,x0:52,x1:572,yLo:1387,yHi:1046,tx:310,row:2,lx:10},
 {left:663,right:1183,top:56,bottom:413,x0:663,x1:1181,yLo:408,yHi:61,tx:923,row:0,lx:622},
 {left:663,right:1179,top:537,bottom:889,x0:663,x1:1177,yLo:884,yHi:542,tx:914,row:1,lx:622},
 {left:670,right:1183,top:1030,bottom:1384,x0:670,x1:1180,yLo:1380,yHi:1043,tx:923,row:2,lx:622}
];
var titleY=[20,500,996], subY=[41,521,1019], letterY=[18,498,994];

var svg=d3.select("body").append("svg").attr("width",1192).attr("height",1438);

layout.forEach(function(L,i){
	var xt=xTickSets[i], yt=yTickSets[i];
	var x=d3.scaleLinear().domain([xt[0],xt[xt.length-1]]).range([L.x0,L.x1]);
	var y=d3.scaleLinear().domain([yt[0],yt[yt.length-1]]).range([L.yLo,L.yHi]);
	var g=svg.append("g");

	svg.append("text").attr("class","letter").attr("x",L.lx).attr("y",letterY[L.row]).text(letters[i]);
	svg.append("text").attr("class","title").attr("x",L.tx).attr("y",titleY[L.row])
		.text("Partial Correlation Coefficient = "+coefficients[i]+" (p<.0001)");
	svg.append("text").attr("class","sub").attr("x",L.tx).attr("y",subY[L.row]).text(groups[i]);

	// minor ticks every 0.1
	var xMinor=d3.range(Math.round(xt[0]*10),Math.round(xt[xt.length-1]*10)+1).map(v=>v/10);
	var yMinor=d3.range(Math.ceil(y.invert(L.bottom)*10),Math.floor(y.invert(L.top)*10)+1).map(v=>v/10);
	g.append("g").attr("transform","translate(0,"+L.bottom+")")
		.call(d3.axisBottom(x).tickValues(xMinor).tickSize(3).tickFormat(""));
	g.append("g").attr("transform","translate("+L.left+",0)")
		.call(d3.axisLeft(y).tickValues(yMinor).tickSize(3).tickFormat(""));
	g.append("g").attr("transform","translate(0,"+L.bottom+")")
		.call(d3.axisBottom(x).tickValues(xt).tickSize(5).tickPadding(3).tickFormat(d3.format("d")));
	g.append("g").attr("transform","translate("+L.left+",0)")
		.call(d3.axisLeft(y).tickValues(yt).tickSize(5).tickPadding(2).tickFormat(d3.format("d")));

	g.append("rect").attr("class","frame").attr("x",L.left).attr("y",L.top)
		.attr("width",L.right-L.left).attr("height",L.bottom-L.top);

	g.append("text").attr("class","axlab").attr("x",(L.left+L.right)/2).attr("y",L.bottom+38).text(xLabel);
	g.append("text").attr("class","axlab")
		.attr("transform","translate("+(L.left-34)+","+((L.top+L.bottom)/2)+") rotate(-90)")
		.attr("dy","0.35em").text(yLabels[i]);

	g.append("g").selectAll("circle").data(pointSets[i]).join("circle")
		.attr("cx",d=>x(d[0])).attr("cy",d=>y(d[1])).attr("r",3.5).attr("fill","#000");

	var r=regLines[i];
	g.append("line").attr("class","reg")
		.attr("x1",x(r[0][0])).attr("y1",y(r[0][1]))
		.attr("x2",x(r[1][0])).attr("y2",y(r[1][1]));

	// legend
	var lw=130, lh=21, lx0=L.right-3-lw, ly0=L.bottom-5-lh;
	var lg=g.append("g");
	lg.append("rect").attr("class","legbox").attr("x",lx0).attr("y",ly0).attr("width",lw).attr("height",lh);
	lg.append("line").attr("class","reg").attr("x1",lx0+22).attr("x2",lx0+46).attr("y1",ly0+lh/2).attr("y2",ly0+lh/2);
	lg.append("text").attr("class","legtext").attr("x",lx0+52).attr("y",ly0+lh/2).attr("dy","0.35em").text("regression line");
});
</script>
</body>
